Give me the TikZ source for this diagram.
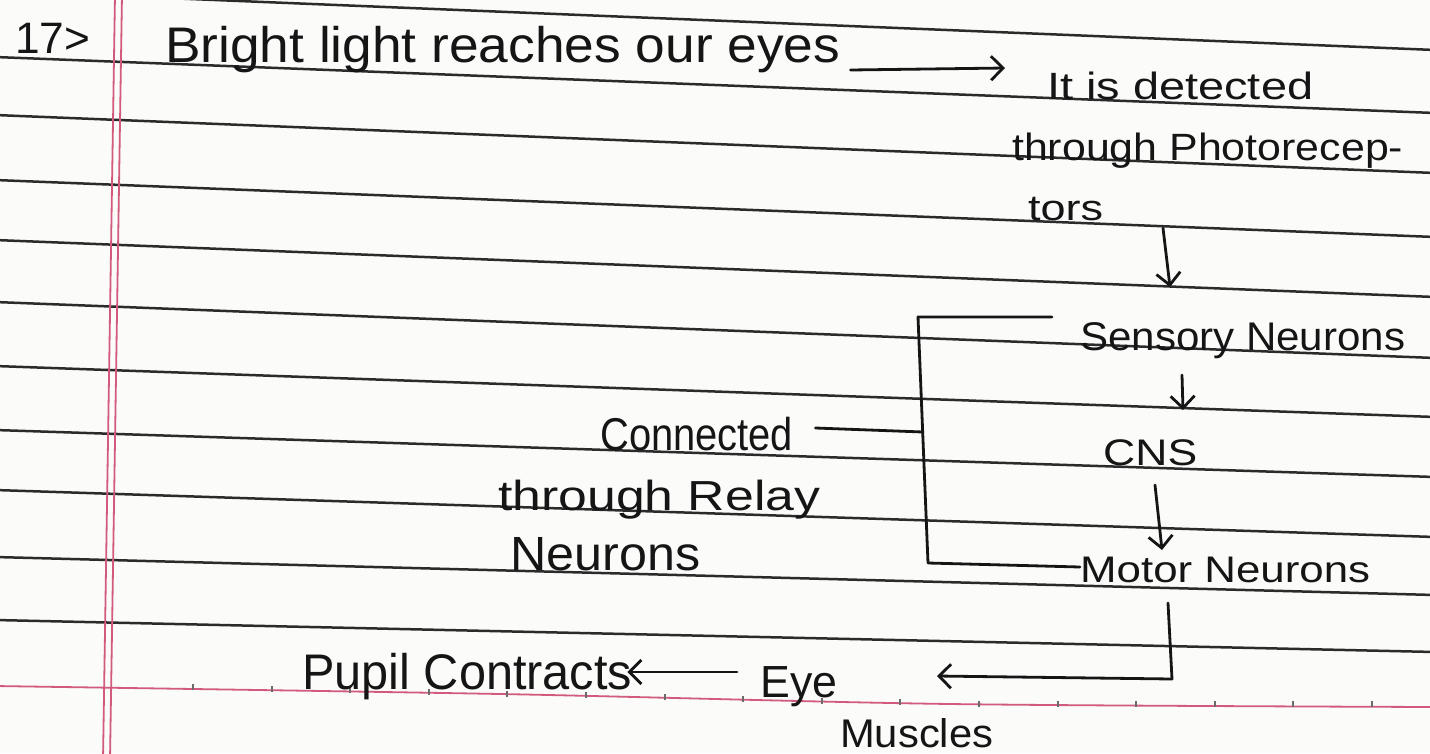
\documentclass[tikz,border=0pt]{standalone}
\usepackage{fontspec}
\setmainfont{Liberation Sans}
\usetikzlibrary{arrows.meta}
\definecolor{paper}{HTML}{FBFBFA}
\definecolor{rulegray}{HTML}{2B2B2B}
\definecolor{marginpink}{HTML}{D25A7C}
\definecolor{ink}{HTML}{151515}
\newcommand\hwtext[3]{{\fontsize{#1}{#1}\selectfont\resizebox{#2pt}{\height}{#3}}}
\tikzset{
  rulestyle/.style={line width=2.5pt, draw=rulegray},
  marginstyle/.style={line width=1.8pt, draw=marginpink},
  tickstyle/.style={line width=1.2pt, draw=rulegray!70},
  hw/.style={inner sep=0pt, anchor=base west, text=ink},
  inkline/.style={line width=2.8pt, draw=ink, line cap=round, line join=round},
  arr/.style={inkline, -{Straight Barb[length=12pt,width=24pt]}},
}
\begin{document}
\begin{tikzpicture}[x=1pt,y=-1pt]
\useasboundingbox (0,0) rectangle (1430,753);
\fill[paper] (0,0) rectangle (1430,753);
\clip (0,0) rectangle (1430,753);
% ruled lines
\foreach \ya/\yb in {-9/50, 57/113, 115/173, 180/237, 240/297, 302/358, 366/417, 430/477, 490/537, 557/595, 620/652}
  \draw[rulestyle] (-5,\ya) -- (1435,\yb);
% bottom pink line with ticks
\draw[marginstyle] plot[smooth] coordinates {(-5,686) (500,694) (950,704) (1435,707)};
\foreach \tx in {193,272,350,429,507,586,665,743,822,900,979,1058,1136,1215,1293,1372}
  \draw[tickstyle] (\tx,{685.5+0.0221*min(\tx,950)}) -- ++(0,-6);
% margin lines
\draw[marginstyle] (115,-5) -- (103,760);
\draw[marginstyle] (122,-5) -- (110,760);

% texts
\node[hw] (num) at (15,53) {\hwtext{44}{75}{17>}};
\node[hw] (bright) at (165,62) {\hwtext{50}{675}{Bright light reaches our eyes}};
\node[hw] (det) at (1047,99) {\hwtext{38}{266}{It is detected}};
\node[hw] (thr) at (1012,160) {\hwtext{38}{391}{through Photorecep-}};
\node[hw] (tors) at (1028,220) {\hwtext{36}{75}{tors}};
\node[hw] (sens) at (1080,350) {\hwtext{40}{325}{Sensory Neurons}};
\node[hw] (cns) at (1103,465) {\hwtext{37}{94}{CNS}};
\node[hw] (motor) at (1080,582) {\hwtext{37}{290}{Motor Neurons}};
\node[hw] (conn) at (600,450) {\hwtext{46}{193}{Connected}};
\node[hw] (relay) at (498,510) {\hwtext{42}{322}{through Relay}};
\node[hw] (neur) at (510,570) {\hwtext{48}{190}{Neurons}};
\node[hw] (pupil) at (302,689) {\hwtext{50}{330}{Pupil Contracts}};
\node[hw] (eye) at (760,697) {\hwtext{45}{77}{Eye}};
\node[hw] (musc) at (840,747) {\hwtext{40}{153}{Muscles}};

% connectors
\draw[arr] ([shift={(10,8)}]bright.base east) -- ([shift={(-42,-31)}]det.base west);
\draw[arr] ([shift={(135,8)}]tors.base west) -- ([shift={(90,-63)}]sens.base west);
\draw[arr] ([shift={(102,25)}]sens.base west) -- ([shift={(80,-55)}]cns.base west);
\draw[arr] ([shift={(52,20)}]cns.base west) -- ([shift={(82,-32)}]motor.base west);
\coordinate (bt) at (918,317);
\coordinate (bb) at (928,563);
\coordinate (bm) at (923,432);
\draw[inkline] ([shift={(-28,-33)}]sens.base west) -- (bt) -- (bb) -- ([shift={(0,-15)}]motor.base west);
\draw[inkline] ([shift={(22,-22)}]conn.base east) -- (bm);
\coordinate (mc) at (1172,679);
\draw[arr] ([shift={(88,21)}]motor.base west) -- (mc) -- ([shift={(177,-21)}]eye.base west);
\draw[arr] ([shift={(-23,-25)}]eye.base west) -- ([shift={(-5,-17)}]pupil.base east);
\end{tikzpicture}
\end{document}
